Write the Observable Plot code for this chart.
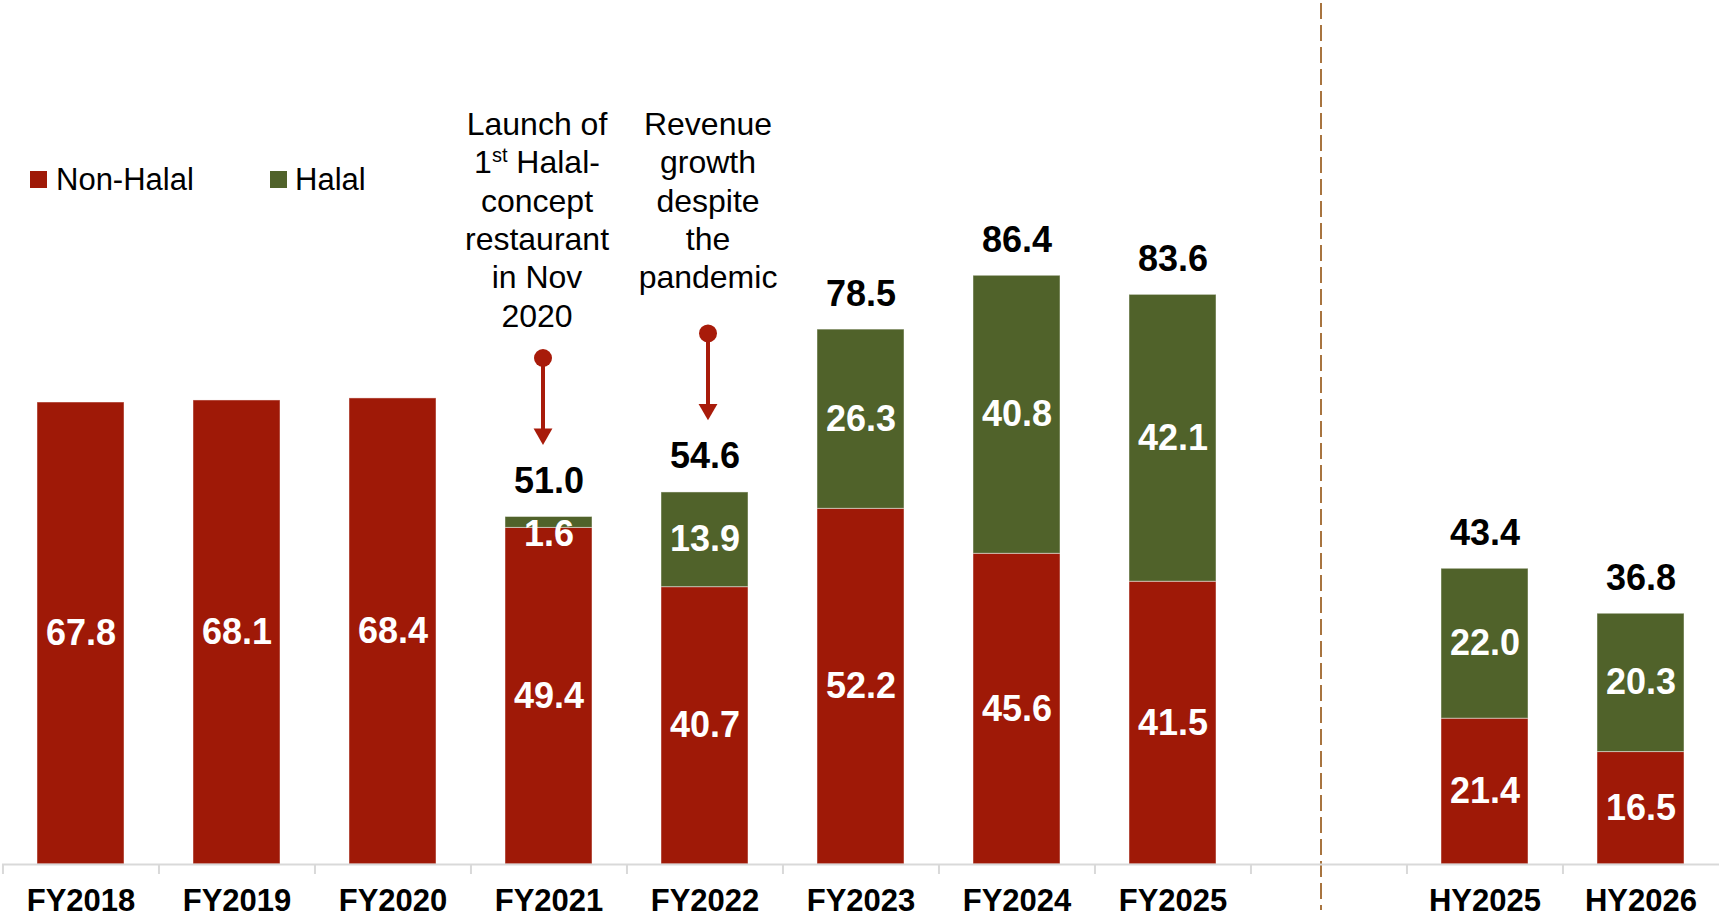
<!DOCTYPE html>
<html>
<head>
<meta charset="utf-8">
<script src="https://cdn.jsdelivr.net/npm/d3@7"></script>
<script src="https://cdn.jsdelivr.net/npm/@observablehq/plot@0.6"></script>
<style>
  body { margin: 0; background: #fff; font-family: "Liberation Sans", Arial, sans-serif; }
  #wrap { position: relative; width: 1719px; height: 919px; overflow: hidden; }
  .leg { position: absolute; font-size: 31px; line-height: 31px; color: #000; white-space: nowrap; }
  .sw { position: absolute; width: 17px; height: 17px; }
</style>
</head>
<body>
<div id="wrap"><div id="chart"></div></div>
<script>
// ---- data ----
const categories = ["FY2018","FY2019","FY2020","FY2021","FY2022","FY2023","FY2024","FY2025","","HY2025","HY2026"];
const series = ["Non-Halal", "Halal"];
const nonHalal = [67.8, 68.1, 68.4, 49.4, 40.7, 52.2, 45.6, 41.5, null, 21.4, 16.5];
const halal    = [null, null, null, 1.6, 13.9, 26.3, 40.8, 42.1, null, 22.0, 20.3];
const totals   = [null, null, null, 51.0, 54.6, 78.5, 86.4, 83.6, null, 43.4, 36.8];
const annotationCats  = ["FY2021", "FY2022"];
const annotationTexts = ["Launch of\n1st Halal-\nconcept\nrestaurant\nin Nov\n2020", "Revenue\ngrowth\ndespite\nthe\npandemic"];
const dividerCat = "";

// ---- styles ----
const colors = ["#9F1907", "#50622A"];
const arrowRed = "#A81B0A";
const font = "'Liberation Sans', Arial, sans-serif";
const annDx = {"FY2021": -12, "FY2022": 3};
const arrowDx = {"FY2021": -6, "FY2022": 3};

// ---- build tables ----
const long = [];
[nonHalal, halal].forEach((vals, si) => {
  vals.forEach((v, i) => { if (v != null) long.push({cat: categories[i], series: series[si], value: v}); });
});
const totalRows = categories.map((c, i) => ({cat: c, total: totals[i]})).filter(d => d.total != null);
const anns = annotationCats.map((c, i) => ({cat: c, text: annotationTexts[i], total: totals[categories.indexOf(c)]}));
const tickCats = categories;

const annMarks = [];
anns.forEach(a => {
  const one = [a];
  annMarks.push(
    Plot.text(one, {x: "cat", text: "text", frameAnchor: "top", lineAnchor: "top", dy: 107, dx: annDx[a.cat],
      fontSize: 32, lineHeight: 1.2, fill: "#000", textAnchor: "middle"}),
    Plot.ruleX(one, {x: "cat", y1: "total", y2: "total", insetTop: -158, insetBottom: 84, dx: arrowDx[a.cat],
      stroke: arrowRed, strokeWidth: 4}),
    Plot.dot(one, {x: "cat", y: "total", dy: -159, dx: arrowDx[a.cat], r: 9, fill: arrowRed, stroke: "none"}),
    Plot.dot(one, {x: "cat", y: "total", dy: -83, dx: arrowDx[a.cat], r: 7, symbol: "triangle", rotate: 180, fill: arrowRed, stroke: "none"})
  );
});

const chart = Plot.plot({
  width: 1719,
  height: 919,
  marginTop: 0,
  marginBottom: 55,
  marginLeft: 2,
  marginRight: 0,
  style: {fontFamily: font, background: "#fff", overflow: "visible"},
  x: {domain: categories, paddingInner: 0.44, paddingOuter: 0.22, axis: null},
  y: {domain: [0, 126.8], axis: null},
  color: {domain: series, range: colors},
  marks: [
    Plot.ruleX([dividerCat], {x: d => d, dx: -8, insetTop: 3, insetBottom: -46, stroke: "#A8743F", strokeWidth: 2, strokeDasharray: "16,6"}),
    Plot.barY(long, {x: "cat", y: "value", fill: "series", stroke: "#fff", strokeOpacity: 0.45, strokeWidth: 1}),
    Plot.text(long, Plot.stackY({x: "cat", y: "value", z: "series",
      text: d => d.value >= 5 ? d.value.toFixed(1) : "", fill: "#fff", fontSize: 36, fontWeight: "bold"})),
    Plot.text(long, Plot.stackY({x: "cat", y: "value", z: "series", dy: 12,
      text: d => d.value < 5 ? d.value.toFixed(1) : "", fill: "#fff", fontSize: 36, fontWeight: "bold"})),
    Plot.text(totalRows, {x: "cat", y: "total", text: d => d.total.toFixed(1), lineAnchor: "bottom", dy: -24,
      fontSize: 36, fontWeight: "bold", fill: "#000"}),
    Plot.ruleY([0], {stroke: "#D9D9D9", strokeWidth: 2}),
    Plot.ruleX(tickCats, {x: d => d, dx: -78.05, insetTop: 864, insetBottom: -10, stroke: "#D9D9D9", strokeWidth: 2}),
    Plot.text(categories, {x: d => d, text: d => d, frameAnchor: "bottom", lineAnchor: "top", dy: 24,
      fontSize: 31, fontWeight: "bold", fill: "#000"}),
    ...annMarks
  ]
});

// superscript for "1st"
chart.querySelectorAll("tspan").forEach(t => {
  if (t.textContent === "1st Halal-") {
    const ns = "http://www.w3.org/2000/svg";
    t.textContent = "1";
    const sup = document.createElementNS(ns, "tspan");
    sup.setAttribute("dy", "-11");
    sup.setAttribute("font-size", "20");
    sup.textContent = "st";
    const rest = document.createElementNS(ns, "tspan");
    rest.setAttribute("dy", "11");
    rest.textContent = " Halal-";
    t.appendChild(sup);
    t.appendChild(rest);
  }
});

document.getElementById("chart").appendChild(chart);

// legend (HTML overlay)
const wrap = document.getElementById("wrap");
const legPos = [{sw: 30, tx: 56}, {sw: 270, tx: 295}];
series.forEach((s, i) => {
  const sw = document.createElement("div");
  sw.className = "sw";
  sw.style.left = legPos[i].sw + "px";
  sw.style.top = "171px";
  sw.style.background = colors[i];
  wrap.appendChild(sw);
  const tx = document.createElement("div");
  tx.className = "leg";
  tx.style.left = legPos[i].tx + "px";
  tx.style.top = "164px";
  tx.textContent = s;
  wrap.appendChild(tx);
});
</script>
</body>
</html>
